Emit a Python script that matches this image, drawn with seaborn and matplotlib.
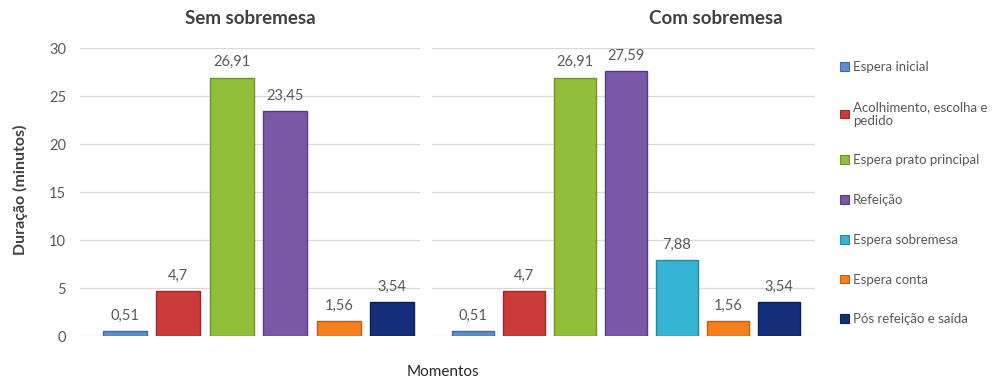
import matplotlib
matplotlib.use("Agg")
import matplotlib.pyplot as plt
import seaborn as sns
import pandas as pd
from matplotlib.patches import Patch

# ---- data ----
cats_sem = ["Espera inicial", "Acolhimento, escolha e pedido", "Espera prato principal",
            "Refeição", "Espera conta", "Pós refeição e saída"]
vals_sem = [0.51, 4.7, 26.91, 23.45, 1.56, 3.54]
labels_sem = ["0,51", "4,7", "26,91", "23,45", "1,56", "3,54"]

cats_com = ["Espera inicial", "Acolhimento, escolha e pedido", "Espera prato principal",
            "Refeição", "Espera sobremesa", "Espera conta", "Pós refeição e saída"]
vals_com = [0.51, 4.7, 26.91, 27.59, 7.88, 1.56, 3.54]
labels_com = ["0,51", "4,7", "26,91", "27,59", "7,88", "1,56", "3,54"]

legend_labels = ["Espera inicial", "Acolhimento, escolha e\npedido", "Espera prato principal",
                 "Refeição", "Espera sobremesa", "Espera conta", "Pós refeição e saída"]
yticks = [0, 5, 10, 15, 20, 25, 30]

colors = {
    "Espera inicial": "#5B8FD0",
    "Acolhimento, escolha e pedido": "#CC3B3B",
    "Espera prato principal": "#92BF3A",
    "Refeição": "#7A58A8",
    "Espera sobremesa": "#35B4D4",
    "Espera conta": "#F7801E",
    "Pós refeição e saída": "#142F7A",
}
edge = {
    "Espera inicial": "#3E6DA8",
    "Acolhimento, escolha e pedido": "#9A2A2A",
    "Espera prato principal": "#6E9428",
    "Refeição": "#573C80",
    "Espera sobremesa": "#2389A4",
    "Espera conta": "#C0600E",
    "Pós refeição e saída": "#0B1E55",
}

sns.set_style("white")
plt.rcParams["font.family"] = ["Lato", "DejaVu Sans"]

W, H = 1005, 383
fig = plt.figure(figsize=(W / 100, H / 100), dpi=100)

def px_axes(x0, x1, ytop, ybot):
    return fig.add_axes([x0 / W, (H - ybot) / H, (x1 - x0) / W, (ybot - ytop) / H])

ax1 = px_axes(80, 420, 48, 336)
ax2 = px_axes(432, 815, 48, 336)

gray = "#595959"

def draw(ax, cats, vals, labels, xlim, show_y):
    df = pd.DataFrame({"cat": cats, "val": vals})
    sns.barplot(data=df, x="cat", y="val", hue="cat", order=cats, hue_order=cats,
                palette=colors, width=0.82, ax=ax, legend=False, saturation=1)
    for p, c in zip(ax.patches, cats):
        p.set_edgecolor(edge[c])
        p.set_linewidth(1.0)
        p.set_zorder(3)
    for i, (v, t) in enumerate(zip(vals, labels)):
        ax.annotate(t, (i, v), xytext=(0, 11), textcoords="offset points",
                    ha="center", va="center", fontsize=10.5, color=gray)
    ax.set_ylim(0, 30)
    ax.set_xlim(*xlim)
    ax.set_yticks(yticks)
    ax.yaxis.grid(True, color="#D9D9D9", linewidth=0.9, zorder=0)
    ax.set_axisbelow(True)
    for s in ax.spines.values():
        s.set_visible(False)
    ax.set_xticks([])
    ax.set_xlabel("")
    ax.set_ylabel("")
    if show_y:
        ax.tick_params(axis="y", labelsize=10.5, labelcolor=gray, length=0, pad=10)
    else:
        ax.set_yticklabels([])
        ax.tick_params(axis="y", length=0)
    ax.set_facecolor("none")

draw(ax1, cats_sem, vals_sem, labels_sem, (-0.84, 5.52), True)
draw(ax2, cats_com, vals_com, labels_com, (-0.8, 6.7), False)

fig.text(250 / W, 1 - 19 / H, "Sem sobremesa", ha="center", va="center",
         fontsize=13.5, fontweight="bold", color="#404040")
fig.text(716 / W, 1 - 19 / H, "Com sobremesa", ha="center", va="center",
         fontsize=13.5, fontweight="bold", color="#404040")
fig.text(20 / W, 1 - 190 / H, "Duração (minutos)", rotation=90, ha="center", va="center",
         fontsize=11.5, fontweight="bold", color="#404040")
fig.text(443 / W, 1 - 372 / H, "Momentos", ha="center", va="center",
         fontsize=11, color="#262626")

handles = [Patch(facecolor=colors[c], edgecolor=edge[c], linewidth=0.8) for c in cats_com]
leg = fig.legend(handles, legend_labels, loc="upper left",
                 bbox_to_anchor=(840 / W, 1 - 61 / H), frameon=False,
                 fontsize=9.5, labelcolor=gray, handlelength=0.65, handleheight=0.65,
                 handletextpad=0.35, labelspacing=2.1, borderaxespad=0, borderpad=0)

fig.savefig("out.png", dpi=100)
